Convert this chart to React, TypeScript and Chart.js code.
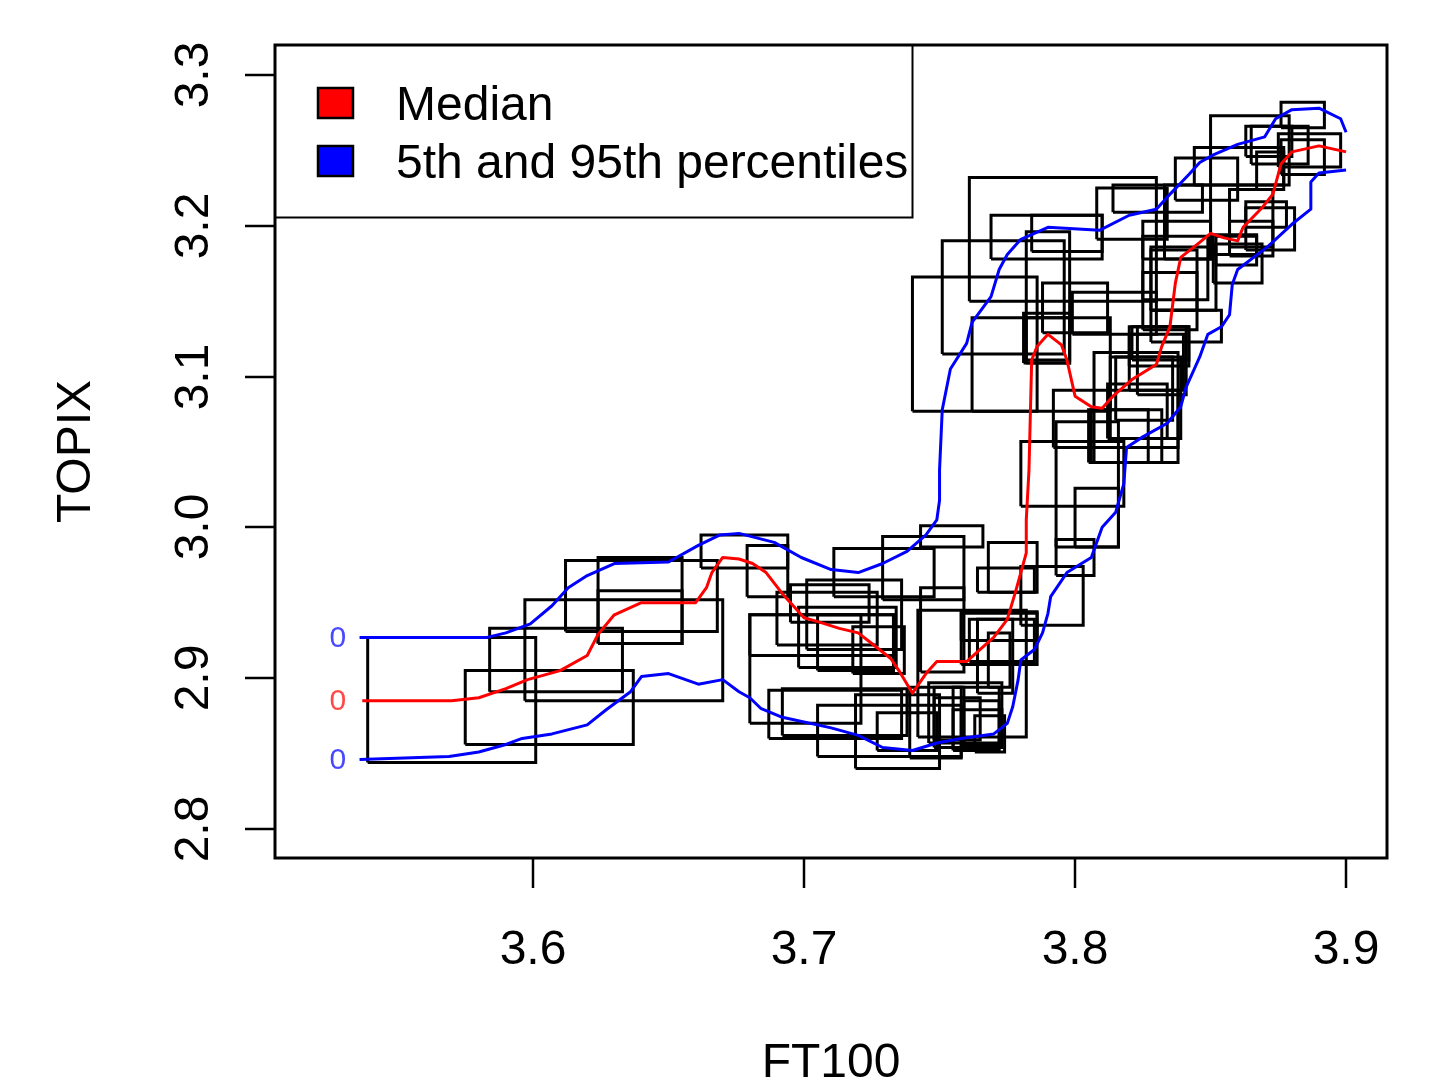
import { useEffect, useRef } from 'react';
import { Chart, registerables } from 'chart.js';

Chart.register(...registerables);

// ---------- data ----------
const xTicks = [3.6, 3.7, 3.8, 3.9];
const yTicks = [2.8, 2.9, 3.0, 3.1, 3.2, 3.3];
const xTitle = 'FT100';
const yTitle = 'TOPIX';
const legendLabels = ['Median', '5th and 95th percentiles'];
const startLabel = '0';
const startLabelX = 3.528;

const medianX = [3.537,3.570,3.580,3.590,3.598,3.610,3.620,3.624,3.630,3.640,3.651,3.660,3.664,3.666,3.670,3.676,3.681,3.686,3.689,3.692,3.695,3.700,3.706,3.713,3.720,3.725,3.732,3.735,3.740,3.745,3.749,3.760,3.765,3.770,3.775,3.778,3.780,3.782,3.782,3.783,3.784,3.786,3.790,3.795,3.797,3.800,3.806,3.810,3.814,3.821,3.830,3.832,3.835,3.837,3.839,3.846,3.850,3.855,3.860,3.862,3.869,3.873,3.876,3.880,3.890,3.895,3.900];
const medianY = [2.885,2.885,2.887,2.893,2.899,2.905,2.915,2.929,2.942,2.950,2.950,2.950,2.960,2.970,2.980,2.979,2.976,2.970,2.963,2.956,2.950,2.940,2.937,2.933,2.930,2.923,2.913,2.905,2.890,2.903,2.911,2.911,2.919,2.927,2.939,2.957,2.970,2.983,3.005,3.038,3.111,3.120,3.128,3.121,3.111,3.087,3.080,3.079,3.087,3.098,3.108,3.120,3.133,3.162,3.179,3.189,3.195,3.192,3.190,3.199,3.212,3.221,3.241,3.249,3.253,3.251,3.249];

const p95X = [3.536,3.570,3.583,3.590,3.599,3.607,3.613,3.620,3.630,3.650,3.661,3.669,3.676,3.689,3.699,3.710,3.720,3.729,3.738,3.745,3.749,3.750,3.750,3.751,3.754,3.760,3.762,3.769,3.772,3.775,3.780,3.790,3.809,3.820,3.830,3.834,3.842,3.846,3.851,3.860,3.870,3.874,3.880,3.890,3.898,3.900];
const p95Y = [2.927,2.927,2.927,2.930,2.936,2.948,2.960,2.968,2.976,2.977,2.988,2.995,2.996,2.990,2.980,2.972,2.970,2.976,2.984,2.995,3.005,3.018,3.038,3.078,3.105,3.122,3.136,3.153,3.171,3.181,3.191,3.199,3.197,3.207,3.211,3.219,3.234,3.242,3.247,3.254,3.259,3.271,3.277,3.278,3.271,3.262];

const p5X = [3.536,3.569,3.580,3.590,3.596,3.607,3.620,3.627,3.636,3.640,3.650,3.661,3.670,3.676,3.680,3.684,3.692,3.710,3.720,3.729,3.740,3.749,3.758,3.770,3.775,3.777,3.779,3.780,3.785,3.788,3.790,3.791,3.797,3.806,3.810,3.815,3.818,3.819,3.825,3.834,3.839,3.841,3.846,3.849,3.854,3.857,3.858,3.860,3.871,3.880,3.887,3.887,3.890,3.900];
const p5Y = [2.846,2.848,2.851,2.856,2.860,2.863,2.869,2.879,2.891,2.901,2.903,2.896,2.899,2.891,2.887,2.880,2.874,2.867,2.862,2.854,2.852,2.857,2.860,2.863,2.870,2.881,2.899,2.912,2.919,2.930,2.943,2.954,2.970,2.980,3.000,3.010,3.029,3.053,3.060,3.069,3.080,3.093,3.113,3.128,3.133,3.141,3.161,3.171,3.186,3.201,3.211,3.229,3.235,3.237];

// boxes: [xLow, xHigh, yLow, yHigh]
const boxesLeft = [
  [3.539,3.601,2.844,2.927],
  [3.575,3.637,2.856,2.905],
  [3.584,3.633,2.891,2.933],
  [3.597,3.670,2.885,2.952],
  [3.612,3.668,2.931,2.978],
  [3.624,3.655,2.923,2.980],
  [3.624,3.655,2.923,2.958],
  [3.662,3.694,2.973,2.995],
];
const boxesMiddle = [
  [3.679,3.694,2.954,2.988],
  [3.711,3.748,2.954,2.986],
  [3.729,3.759,2.952,2.994],
  [3.743,3.766,2.987,3.001],
  [3.768,3.786,2.957,2.990],
  [3.764,3.785,2.957,2.973],
  [3.695,3.724,2.937,2.962],
  [3.701,3.736,2.919,2.965],
  [3.698,3.734,2.907,2.947],
  [3.690,3.727,2.922,2.957],
  [3.680,3.733,2.915,2.942],
  [3.705,3.733,2.905,2.942],
  [3.718,3.737,2.903,2.934],
  [3.680,3.721,2.870,2.942],
  [3.687,3.736,2.860,2.892],
  [3.692,3.738,2.862,2.893],
  [3.705,3.758,2.848,2.882],
  [3.719,3.750,2.840,2.889],
  [3.727,3.749,2.852,2.877],
  [3.739,3.758,2.847,2.894],
  [3.746,3.773,2.857,2.897],
  [3.742,3.782,2.861,2.945],
  [3.743,3.759,2.904,2.960],
  [3.758,3.786,2.909,2.944],
  [3.761,3.785,2.911,2.939],
  [3.764,3.777,2.890,2.939],
  [3.768,3.776,2.894,2.930],
  [3.755,3.772,2.852,2.894],
  [3.748,3.765,2.859,2.887],
  [3.755,3.773,2.854,2.879],
  [3.758,3.786,2.925,2.943],
  [3.748,3.759,2.854,2.894],
  [3.759,3.772,2.856,2.885],
  [3.763,3.774,2.851,2.875],
];
const boxesRise = [
  [3.780,3.803,2.935,2.974],
  [3.793,3.807,2.968,2.992],
  [3.800,3.816,2.987,3.026],
  [3.793,3.816,2.987,3.070],
  [3.780,3.818,3.014,3.057],
];
const boxesUpper = [
  [3.761,3.830,3.150,3.232],
  [3.740,3.786,3.077,3.166],
  [3.751,3.796,3.115,3.190],
  [3.762,3.813,3.077,3.139],
  [3.769,3.810,3.178,3.207],
  [3.784,3.810,3.183,3.207],
  [3.782,3.798,3.109,3.196],
  [3.788,3.812,3.129,3.162],
  [3.781,3.798,3.109,3.142],
  [3.782,3.798,3.111,3.139],
  [3.799,3.830,3.128,3.156],
  [3.808,3.834,3.191,3.225],
  [3.814,3.847,3.209,3.227],
  [3.807,3.838,3.043,3.116],
  [3.792,3.838,3.053,3.091],
  [3.820,3.842,3.107,3.133],
  [3.828,3.845,3.144,3.184],
  [3.813,3.839,3.059,3.113],
  [3.805,3.827,3.043,3.078],
  [3.812,3.834,3.059,3.095],
  [3.820,3.840,3.091,3.128],
  [3.821,3.842,3.111,3.133],
  [3.815,3.836,3.071,3.113],
  [3.823,3.841,3.088,3.133],
  [3.806,3.832,3.043,3.078],
];
const boxesTop = [
  [3.876,3.892,3.265,3.282],
  [3.850,3.879,3.227,3.273],
  [3.863,3.880,3.246,3.266],
  [3.865,3.886,3.241,3.266],
  [3.875,3.898,3.239,3.261],
  [3.876,3.892,3.234,3.257],
  [3.867,3.877,3.224,3.249],
  [3.844,3.877,3.227,3.252],
  [3.837,3.860,3.217,3.245],
  [3.833,3.850,3.178,3.227],
  [3.857,3.873,3.186,3.224],
  [3.863,3.878,3.199,3.216],
  [3.863,3.881,3.184,3.212],
  [3.851,3.869,3.162,3.188],
  [3.851,3.867,3.181,3.194],
  [3.825,3.850,3.178,3.203],
  [3.825,3.849,3.151,3.193],
  [3.828,3.852,3.144,3.186],
  [3.852,3.867,3.174,3.193],
  [3.857,3.873,3.180,3.203],
  [3.825,3.845,3.131,3.169],
  [3.828,3.854,3.123,3.144],
];

// ---------- style ----------
const W = 1431;
const H = 1078;
const FONT = 'Liberation Sans, Arial, Helvetica, sans-serif';
const RED = '#ff0000';
const BLUE = '#0000ff';

function seriesPoints(xs: number[], ys: number[]) {
  return xs.map((x, i) => ({ x, y: ys[i] }));
}

function boxPoints(b: number[]) {
  const [x0, x1, y0, y1] = b;
  return [
    { x: x0, y: y0 },
    { x: x1, y: y0 },
    { x: x1, y: y1 },
    { x: x0, y: y1 },
    { x: x0, y: y0 },
  ];
}

const decorPlugin = {
  id: 'rDecor',
  afterDraw(chart: any) {
    const { ctx, chartArea: a, scales } = chart;
    const xs = scales.x;
    const ys = scales.y;
    ctx.save();
    ctx.strokeStyle = '#000';
    ctx.fillStyle = '#000';
    ctx.lineCap = 'butt';

    // start labels "0"
    ctx.font = `30px ${FONT}`;
    ctx.textAlign = 'center';
    ctx.textBaseline = 'middle';
    const starts: [number, string][] = [
      [p95Y[0], 'rgba(40,40,255,0.85)'],
      [medianY[0], 'rgba(255,40,40,0.85)'],
      [p5Y[0], 'rgba(40,40,255,0.85)'],
    ];
    starts.forEach(([v, c]) => {
      ctx.fillStyle = c;
      ctx.fillText(startLabel, xs.getPixelForValue(startLabelX), ys.getPixelForValue(v) + 1);
    });
    ctx.fillStyle = '#000';

    // plot box
    ctx.lineWidth = 3;
    ctx.strokeRect(a.left, a.top, a.right - a.left, a.bottom - a.top);

    // x axis
    ctx.lineWidth = 2.5;
    ctx.font = `48px ${FONT}`;
    ctx.textAlign = 'center';
    ctx.textBaseline = 'alphabetic';
    xTicks.forEach((v) => {
      const px = Math.round(xs.getPixelForValue(v));
      ctx.beginPath();
      ctx.moveTo(px, a.bottom);
      ctx.lineTo(px, a.bottom + 30);
      ctx.stroke();
      ctx.fillText(v.toFixed(1), px, a.bottom + 106);
    });
    ctx.fillText(xTitle, (a.left + a.right) / 2, a.bottom + 219);

    // y axis
    yTicks.forEach((v) => {
      const py = Math.round(ys.getPixelForValue(v));
      ctx.beginPath();
      ctx.moveTo(a.left, py);
      ctx.lineTo(a.left - 30, py);
      ctx.stroke();
      ctx.save();
      ctx.translate(a.left - 67, py);
      ctx.rotate(-Math.PI / 2);
      ctx.fillText(v.toFixed(1), 0, 0);
      ctx.restore();
    });
    ctx.save();
    ctx.translate(a.left - 185, (a.top + a.bottom) / 2);
    ctx.rotate(-Math.PI / 2);
    ctx.fillText(yTitle, 0, 0);
    ctx.restore();

    // legend
    const lx = a.left;
    const ly = a.top;
    const lw = 637;
    const lh = 172;
    ctx.fillStyle = '#fff';
    ctx.fillRect(lx, ly, lw, lh);
    ctx.lineWidth = 2;
    ctx.strokeRect(lx + 0.5, ly + 0.5, lw, lh);
    const colors = [RED, BLUE];
    legendLabels.forEach((label, i) => {
      const cy = ly + 58 + i * 58;
      ctx.fillStyle = colors[i];
      ctx.fillRect(lx + 43, cy - 15, 35, 30);
      ctx.lineWidth = 2.5;
      ctx.strokeStyle = '#000';
      ctx.strokeRect(lx + 43, cy - 15, 35, 30);
      ctx.fillStyle = '#000';
      ctx.textAlign = 'left';
      ctx.textBaseline = 'alphabetic';
      ctx.fillText(label, lx + 121, cy + 17);
    });
    ctx.restore();
  },
};

export default function App() {
  const ref = useRef<HTMLCanvasElement>(null);

  useEffect(() => {
    if (!ref.current) return;
    const lineBase = {
      showLine: true,
      pointRadius: 0,
      pointHoverRadius: 0,
      borderWidth: 3,
      tension: 0,
      fill: false,
      borderJoinStyle: 'miter' as const,
    };
    const allBoxes = [...boxesLeft, ...boxesMiddle, ...boxesRise, ...boxesUpper, ...boxesTop];
    const datasets: any[] = [
      { ...lineBase, label: 'Median', data: seriesPoints(medianX, medianY), borderColor: RED, borderJoinStyle: 'round', order: 0 },
      { ...lineBase, label: '95th', data: seriesPoints(p95X, p95Y), borderColor: BLUE, borderJoinStyle: 'round', order: 0 },
      { ...lineBase, label: '5th', data: seriesPoints(p5X, p5Y), borderColor: BLUE, borderJoinStyle: 'round', order: 0 },
      ...allBoxes.map((b, i) => ({
        ...lineBase,
        label: `box${i}`,
        data: boxPoints(b),
        borderColor: '#000',
        borderWidth: 3,
        order: 1,
      })),
    ];

    const chart = new Chart(ref.current, {
      type: 'scatter',
      data: { datasets },
      options: {
        animation: false,
        responsive: false,
        devicePixelRatio: 1,
        events: [],
        layout: { padding: { left: 275, right: W - 1387, top: 45, bottom: H - 858 } },
        plugins: { legend: { display: false }, tooltip: { enabled: false } },
        scales: {
          x: { type: 'linear', min: 3.5048, max: 3.9151, display: false },
          y: { type: 'linear', min: 2.7807, max: 3.3199, display: false },
        },
      },
      plugins: [decorPlugin],
    });
    return () => chart.destroy();
  }, []);

  return (
    <div style={{ position: 'absolute', left: 0, top: 0, width: W, height: H, background: '#fff' }}>
      <canvas ref={ref} width={W} height={H} style={{ display: 'block', width: W, height: H }} />
    </div>
  );
}
